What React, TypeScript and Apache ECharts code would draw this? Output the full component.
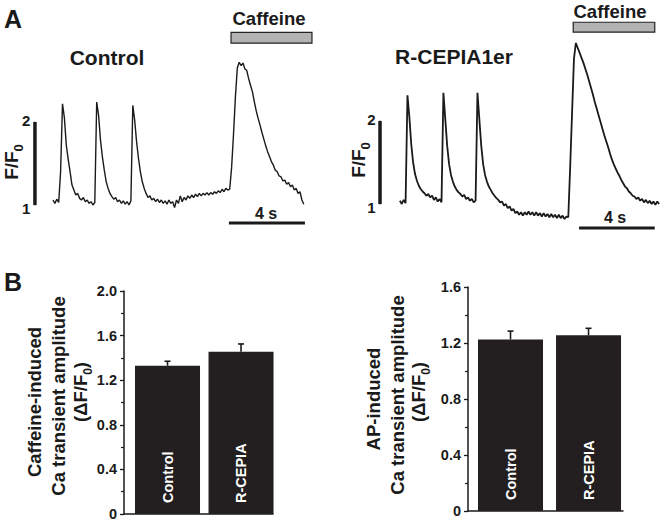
import React, { useEffect, useRef } from "react";
import * as echarts from "echarts";

const FONT = '"Liberation Sans", Arial, Helvetica, sans-serif';
const INK = "#1a1a1a";

// sampling step of the traces (s)
const DT = 0.1;

// F/F0 trace, Control cell (t = 0 .. 13.2 s)
const controlTrace = [
  1.06, 1.02, 1.07, 1.03, 1.4, 2.22, 2.05, 1.72, 1.55, 1.4,
  1.24, 1.18, 1.12, 1.14, 1.08, 1.06, 1.09, 1.04, 1.06, 1.02,
  1.04, 1.0, 1.03, 2.24, 2.08, 1.78, 1.58, 1.42, 1.28, 1.2,
  1.14, 1.1, 1.07, 1.09, 1.04, 1.06, 1.02, 1.05, 1.01, 1.04,
  1.0, 1.05, 2.2, 2.02, 1.76, 1.56, 1.4, 1.28, 1.2, 1.14,
  1.09, 1.11, 1.06, 1.08, 1.04, 1.07, 1.03, 1.06, 1.02, 1.05,
  1.01, 1.06, 1.02, 1.04, 0.97, 1.06, 1.02, 1.11, 1.04, 1.09,
  1.06, 1.11, 1.08, 1.12, 1.09, 1.13, 1.1, 1.14, 1.11, 1.14,
  1.12, 1.15, 1.12, 1.15, 1.13, 1.16, 1.14, 1.17, 1.15, 1.19,
  1.16, 1.2, 1.18, 1.19, 1.45, 1.85, 2.3, 2.65, 2.72, 2.68,
  2.71, 2.64, 2.62, 2.52, 2.44, 2.36, 2.24, 2.13, 2.04, 1.96,
  1.87, 1.79, 1.71, 1.64, 1.58, 1.52, 1.48, 1.42, 1.4, 1.35,
  1.34, 1.29, 1.3, 1.25, 1.27, 1.22, 1.24, 1.18, 1.2, 1.14,
  1.16, 1.06, 1.01,
];

// F/F0 trace, R-CEPIA1er cell (t = 0 .. 13.7 s)
const cepiaTrace = [
  1.04, 1.0, 1.05, 1.01, 2.31, 2.05, 1.72, 1.5, 1.36, 1.28,
  1.22, 1.18, 1.15, 1.13, 1.1, 1.12, 1.08, 1.1, 1.05, 1.08,
  1.03, 1.06, 1.02, 2.34, 2.02, 1.7, 1.48, 1.35, 1.27, 1.21,
  1.17, 1.14, 1.12, 1.09, 1.11, 1.06, 1.08, 1.04, 1.06, 1.02,
  1.04, 2.34, 2.02, 1.7, 1.48, 1.35, 1.27, 1.21, 1.17, 1.13,
  1.1, 1.07, 1.05, 1.02, 1.03, 0.98, 1.0, 0.95, 0.97, 0.92,
  0.94, 0.89, 0.91, 0.87, 0.9, 0.86, 0.9, 0.87, 0.91, 0.87,
  0.9, 0.86, 0.9, 0.86, 0.89, 0.85, 0.89, 0.85, 0.88, 0.84,
  0.88, 0.84, 0.87, 0.83, 0.87, 0.83, 0.86, 0.82, 0.85, 0.84,
  1.45, 2.1, 2.75, 2.94, 2.88, 2.82, 2.76, 2.7, 2.63, 2.56,
  2.48, 2.4, 2.32, 2.23, 2.15, 2.07, 1.99, 1.91, 1.83, 1.76,
  1.69, 1.61, 1.54, 1.48, 1.43, 1.38, 1.34, 1.29, 1.25, 1.21,
  1.19, 1.15, 1.13, 1.1, 1.09, 1.06, 1.08, 1.04, 1.06, 1.02,
  1.05, 1.01, 1.04, 1.0, 1.03, 0.99, 1.03, 1.0,
];

// caffeine application windows (s)
const controlCaffeine = [9.37, 13.63];
const cepiaCaffeine = [9.16, 13.47];
// scale bars: F/F0 from 1 to 2, 4 s
const scaleF = [1, 2];
const controlTimeBar = [9.26, 13.26];
const cepiaTimeBar = [9.47, 13.47];

// panel B
const barCategories = ["Control", "R-CEPIA"];
const caffeineMeans = [1.33, 1.455];
const caffeineErr = [0.04, 0.07];
const apMeans = [1.225, 1.255];
const apErr = [0.06, 0.05];
const caffeineTicks = { min: 0, max: 2.0, interval: 0.4 };
const apTicks = { min: 0, max: 1.6, interval: 0.4 };

const toPairs = (vals: number[]) =>
  vals.map((v, i) => [Math.round(i * DT * 100) / 100, v]);

function traceSeries(idx: number, vals: number[], caff: number[], caffY: number[], w: number) {
  return {
    type: "line",
    xAxisIndex: idx,
    yAxisIndex: idx,
    data: toPairs(vals),
    symbol: "none",
    showSymbol: false,
    lineStyle: { color: INK, width: w },
    markArea: {
      silent: true,
      itemStyle: { color: "#b3b3b3", borderColor: "#222", borderWidth: 1.2 },
      data: [[{ coord: [caff[0], caffY[0]] }, { coord: [caff[1], caffY[1]] }]],
    },
    z: 2,
  };
}

function fBarSeries(idx: number, x: number) {
  return {
    type: "line",
    xAxisIndex: idx,
    yAxisIndex: idx,
    data: [
      { value: [x, scaleF[0]], label: { offset: [0, 3] } },
      { value: [x, scaleF[1]], label: { offset: [0, -2] } },
    ],
    symbol: "circle",
    symbolSize: 1,
    itemStyle: { color: INK },
    lineStyle: { color: INK, width: 3.5 },
    label: {
      show: true,
      position: "left",
      distance: 4,
      formatter: (p: any) => String(p.value[1]),
      fontFamily: FONT,
      fontWeight: "bold",
      fontSize: 15,
      color: INK,
    },
  };
}

function tBarSeries(idx: number, range: number[], y: number) {
  return {
    type: "line",
    xAxisIndex: idx,
    yAxisIndex: idx,
    data: [
      [range[0], y],
      [range[1], y],
    ],
    symbol: "none",
    lineStyle: { color: INK, width: 3 },
  };
}

function barSeries(idx: number, means: number[]) {
  return {
    type: "bar",
    xAxisIndex: idx,
    yAxisIndex: idx,
    barWidth: 65,
    data: means.map((v, i) => [i + 1, v]),
    itemStyle: { color: "#231f20" },
    label: {
      show: true,
      position: "insideBottom",
      rotate: 90,
      align: "left",
      verticalAlign: "middle",
      distance: 11,
      formatter: (p: any) => barCategories[p.dataIndex],
      color: "#fff",
      fontFamily: FONT,
      fontWeight: "bold",
      fontSize: 14.5,
    },
    z: 2,
  };
}

function errSeries(idx: number, means: number[], errs: number[]) {
  return {
    type: "custom",
    xAxisIndex: idx,
    yAxisIndex: idx,
    data: means.map((v, i) => [i + 1, v, errs[i]]),
    renderItem: (_params: any, api: any) => {
      const x = api.value(0);
      const m = api.value(1);
      const e = api.value(2);
      const p0 = api.coord([x, m]);
      const p1 = api.coord([x, m + e]);
      const st = { stroke: INK, lineWidth: 1.6 };
      return {
        type: "group",
        children: [
          { type: "line", shape: { x1: p0[0], y1: p0[1], x2: p1[0], y2: p1[1] }, style: st },
          { type: "line", shape: { x1: p1[0] - 3, y1: p1[1], x2: p1[0] + 3, y2: p1[1] }, style: st },
        ],
      };
    },
    z: 5,
  };
}

const barY = (t: { min: number; max: number; interval: number }, idx: number) => ({
  gridIndex: idx,
  type: "value",
  min: t.min,
  max: t.max,
  interval: t.interval,
  axisLine: { show: true, onZero: false, lineStyle: { color: INK, width: 1.5 } },
  axisTick: { show: true, inside: false, length: 4, lineStyle: { color: INK, width: 1.3 } },
  minorTick: { show: true, splitNumber: 2, length: 3, lineStyle: { color: INK, width: 1.2 } },
  splitLine: { show: false },
  minorSplitLine: { show: false },
  axisLabel: {
    margin: 7,
    fontFamily: FONT,
    fontWeight: "bold",
    fontSize: 14.5,
    color: INK,
    formatter: (v: number) => (v === 0 ? "0" : v.toFixed(1)),
  },
});

const barX = (idx: number, min: number, max: number) => ({
  gridIndex: idx,
  type: "value",
  min,
  max,
  axisLine: { show: true, onZero: false, lineStyle: { color: INK, width: 1.5 } },
  axisTick: { show: false },
  axisLabel: { show: false },
  splitLine: { show: false },
});

function txt(text: string, x: number, y: number, size: number, rotate = false, rich?: any) {
  return {
    type: "text",
    x,
    y,
    rotation: rotate ? Math.PI / 2 : 0,
    silent: true,
    style: {
      text,
      fill: INK,
      fontFamily: FONT,
      fontWeight: "bold",
      fontSize: size,
      align: "center",
      verticalAlign: "middle",
      rich,
    },
  };
}

const ffRich = (size: number, sub: number) => ({
  m: { fontSize: size, fontWeight: "bold", fontFamily: FONT, fill: INK },
  s: { fontSize: sub, fontWeight: "bold", fontFamily: FONT, fill: INK, verticalAlign: "bottom", padding: [0, 0, -4, 0] },
});

export default function App() {
  const ref = useRef<HTMLDivElement>(null);
  useEffect(() => {
    if (!ref.current) return;
    const chart = echarts.init(ref.current, undefined, { renderer: "svg" });
    chart.setOption({
      animation: false,
      backgroundColor: "#fff",
      grid: [
        { left: 30.2, top: 30.7, width: 285, height: 199.2 },
        { left: 373.4, top: 13.1, width: 288.8, height: 224.1 },
        { left: 124, top: 291, width: 149, height: 223 },
        { left: 468, top: 287, width: 155, height: 224 },
      ],
      xAxis: [
        { gridIndex: 0, type: "value", min: -1.2, max: 13.8, show: false },
        { gridIndex: 1, type: "value", min: -1.4, max: 13.8, show: false },
        barX(2, 0.408, 2.435),
        barX(3, 0.455, 2.442),
      ],
      yAxis: [
        { gridIndex: 0, type: "value", min: 0.7, max: 3.1, show: false },
        { gridIndex: 1, type: "value", min: 0.6, max: 3.3, show: false },
        barY(caffeineTicks, 2),
        barY(apTicks, 3),
      ],
      series: [
        traceSeries(0, controlTrace, controlCaffeine, [2.95, 3.08], 1.4),
        traceSeries(1, cepiaTrace, cepiaCaffeine, [3.07, 3.19], 1.8),
        fBarSeries(0, -0.95),
        fBarSeries(1, -1.05),
        tBarSeries(0, controlTimeBar, 0.783),
        tBarSeries(1, cepiaTimeBar, 0.711),
        barSeries(2, caffeineMeans),
        errSeries(2, caffeineMeans, caffeineErr),
        barSeries(3, apMeans),
        errSeries(3, apMeans, apErr),
      ],
      graphic: [
        txt("A", 13, 19, 25),
        txt("B", 13, 282, 25),
        txt("Caffeine", 269, 18, 18.5),
        txt("Caffeine", 610, 11, 18.5),
        txt("Control", 107, 57, 21),
        txt("R-CEPIA1er", 454, 56, 21),
        txt("4 s", 266, 213, 16),
        txt("4 s", 615, 217, 16),
        txt("{m|F/F}{s|0}", 11, 162, 19, true, ffRich(19, 13)),
        txt("{m|F/F}{s|0}", 358, 160, 19, true, ffRich(19, 13)),
        txt("Caffeine-induced", 34, 402, 18.5, true),
        txt("Ca transient amplitude", 58, 396, 18.5, true),
        txt("{m|(ΔF/F}{s|0}{m|)}", 80, 392, 18.5, true, ffRich(18.5, 12)),
        txt("AP-induced", 373, 399, 18.5, true),
        txt("Ca transient amplitude", 397, 395, 18.5, true),
        txt("{m|(ΔF/F}{s|0}{m|)}", 418, 392, 18.5, true, ffRich(18.5, 12)),
      ],
    });
    return () => chart.dispose();
  }, []);
  return (
    <div
      ref={ref}
      style={{ position: "fixed", left: 0, top: 0, width: 661, height: 523, background: "#fff" }}
    />
  );
}
